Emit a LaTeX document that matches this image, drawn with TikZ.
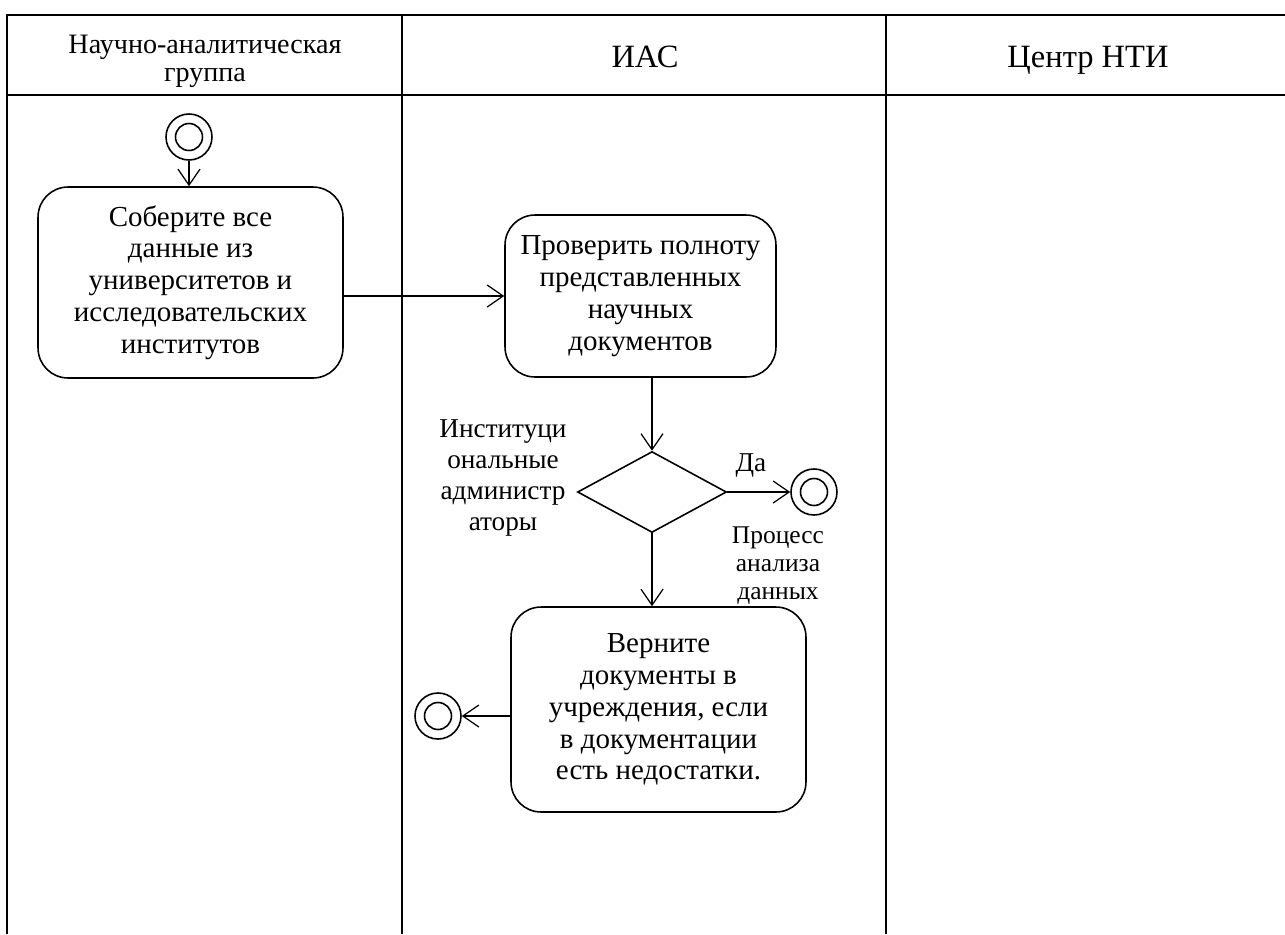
\documentclass[tikz,border=0pt]{standalone}
\usepackage{fontspec}
\setmainfont{Liberation Serif}
\usepackage{tikz}
\usetikzlibrary{shapes,arrows,arrows.meta,positioning}
\usetikzlibrary{shapes.geometric}

\begin{document}
\begin{tikzpicture}[x=0.02cm, y=-0.02cm,
				>={Straight Barb[length=3.2mm, width=4.4mm]},
				act/.style={draw, rounded corners=0.6cm, line width=0.9pt, align=center, font=\fontsize{16.5}{18.1}\selectfont},
				endpt/.style={draw, circle, line width=0.9pt, minimum size=0.92cm, inner sep=0pt,
					path picture={\draw [line width=0.9pt] (path picture bounding box.center) circle (0.27cm);}},
				lbl/.style={align=center, font=\fontsize{15.5}{17.5}\selectfont}]
				\useasboundingbox [fill=white] (0,0) rectangle (1285,934);
				% swimlanes
				\draw [line width=1pt] (1285,15) -- (7,15) -- (7,934);
				\draw [line width=1pt] (7,95) -- (1285,95);
				\draw [line width=1pt] (402,15) -- (402,934);
				\draw [line width=1pt] (886,15) -- (886,934);
				\node (hNAG) at (205,61) [align=center, font=\fontsize{16}{15.9}\selectfont] {Научно-аналитическая\\группа};
				\node (hIAS) at (645,67) [anchor=base, font=\fontsize{18.5}{20}\selectfont] {ИАС};
				\node (hNTI) at (1088,67) [anchor=base, font=\fontsize{18.5}{20}\selectfont] {Центр НТИ};
				% activity
				\node (start) at (189,137) [endpt] {};
				\node (collect) at (190.5,282.5) [act, minimum width=6.1cm, minimum height=3.82cm] {Соберите все\\данные из\\университетов и\\исследовательских\\институтов};
				\node (check) at (640.5,296) [act, minimum width=5.42cm, minimum height=3.24cm] {Проверить полноту\\представленных\\научных\\документов};
				\node (dec) at (652,492) [draw, diamond, line width=0.9pt, minimum width=2.98cm, minimum height=1.62cm, inner sep=0pt] {};
				\node (endA) at (814,492) [endpt] {};
				\node (ret) at (658.5,709.5) [act, minimum width=5.9cm, minimum height=4.1cm] {Верните\\документы в\\учреждения, если\\в документации\\есть недостатки.};
				\node (endB) at (438,716) [endpt] {};
				\node (adm) at (503,478) [lbl] {Институци\\ональные\\администр\\аторы};
				\node (da) at (751,465) [lbl] {Да};
				\node (proc) at (778,566) [align=center, font=\fontsize{14.5}{15.9}\selectfont] {Процесс\\анализа\\данных};
				\draw [->]	[line width=0.7pt] (start) -- (start |- collect.north);
				\draw [->]	[line width=0.7pt] (collect.east |- check.west) -- (check.west);
				\draw [->]	[line width=0.7pt] (dec.north |- check.south) -- (dec.north);
				\draw [->]	[line width=0.7pt] (dec.east) -- (endA);
				\draw [->]	[line width=0.7pt] (dec.south) -- (dec.south |- ret.north);
				\draw [->]	[line width=0.7pt] (ret.west |- endB) -- (endB);
\end{tikzpicture}
\end{document}
